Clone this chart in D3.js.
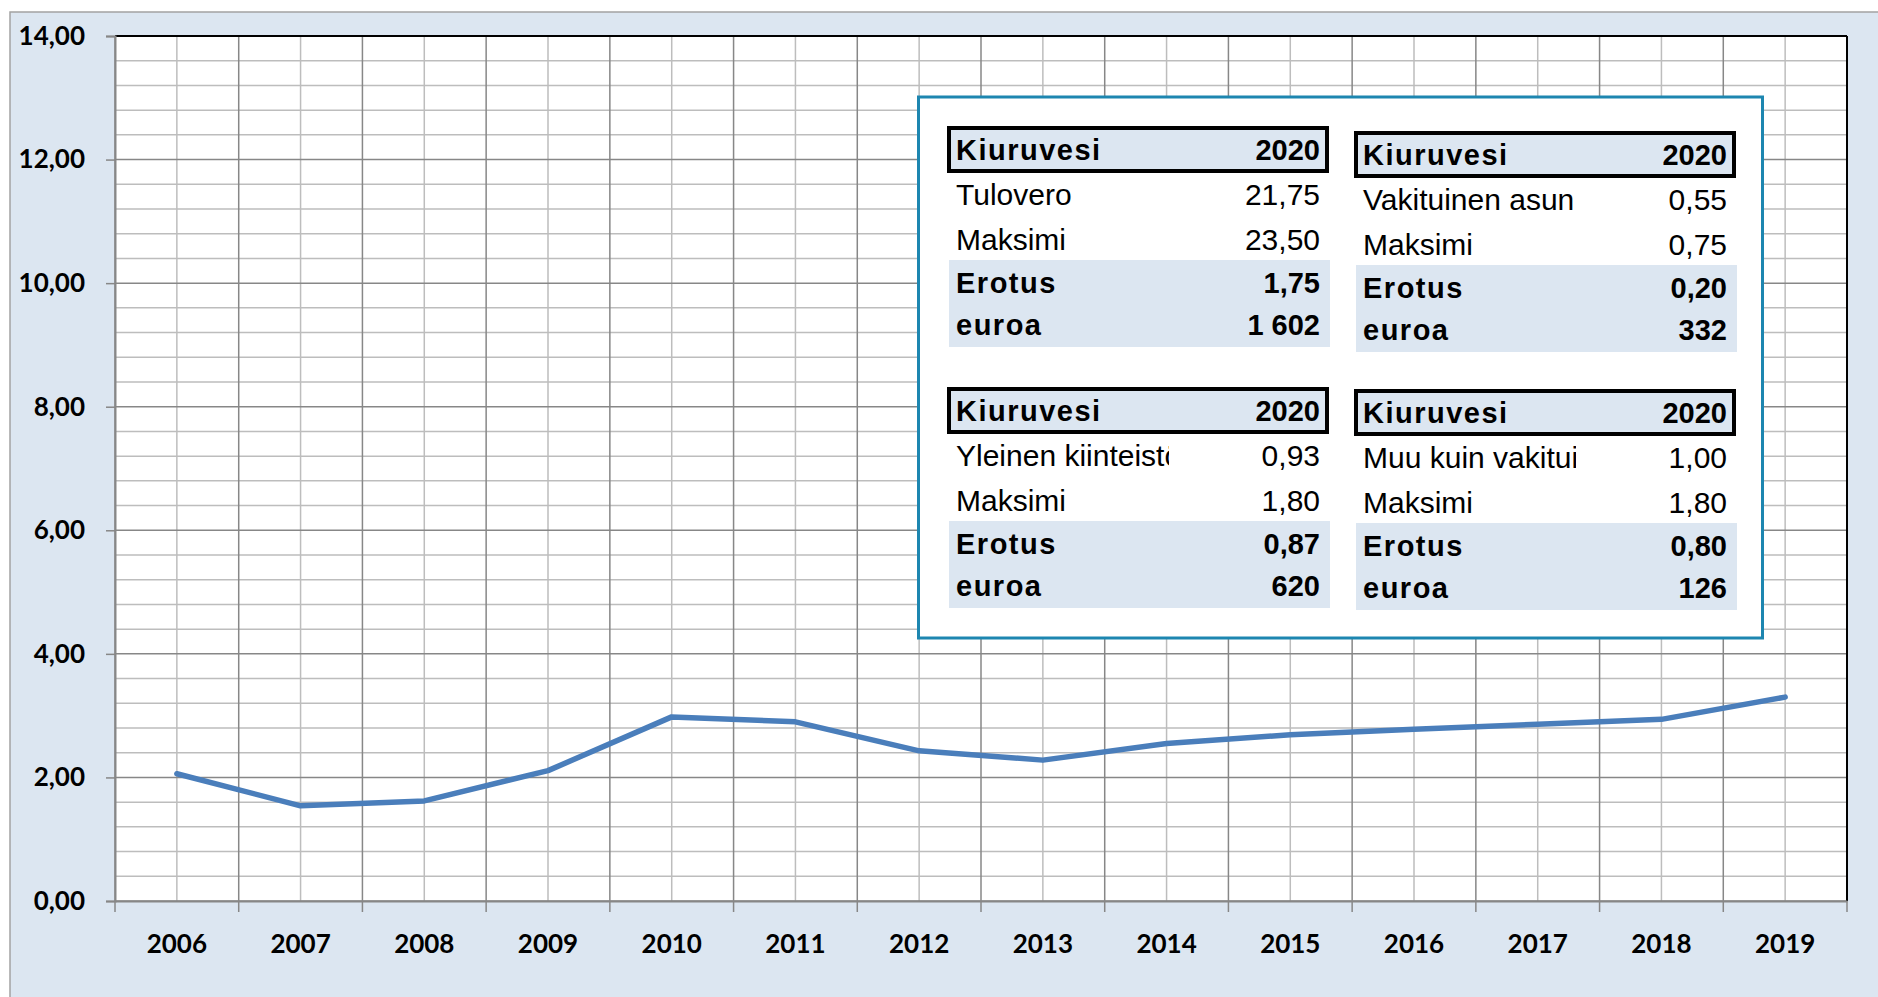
<!DOCTYPE html>
<html lang="en">
<head>
    <meta charset="UTF-8">
    <title>Kiuruvesi</title>
    <script src="https://d3js.org/d3.v7.min.js"></script>
    <style>
        body, html {
            margin: 0;
            padding: 0;
            width: 100%;
            height: 100%;
            overflow: hidden;
            background: #fff;
        }
        svg { display: block; }
    </style>
</head>
<body>
    <div id="chart"></div>

    <script>
        // Data
        const years = ["2006", "2007", "2008", "2009", "2010", "2011", "2012", "2013", "2014", "2015", "2016", "2017", "2018", "2019"];
        const values = [2.06, 1.54, 1.62, 2.11, 2.98, 2.90, 2.43, 2.28, 2.55, 2.69, 2.78, 2.86, 2.94, 3.30];
        const yTicks = [0, 2, 4, 6, 8, 10, 12, 14];

        // Inset tables
        const tableTitle = "Kiuruvesi";
        const tableYear = "2020";
        const tableLabels = [
            ["Tulovero", "Maksimi", "Erotus", "euroa"],
            ["Vakituinen asun", "Maksimi", "Erotus", "euroa"],
            ["Yleinen kiinteistö", "Maksimi", "Erotus", "euroa"],
            ["Muu kuin vakituin", "Maksimi", "Erotus", "euroa"]
        ];
        const tableValues = [
            ["21,75", "23,50", "1,75", "1 602"],
            ["0,55", "0,75", "0,20", "332"],
            ["0,93", "1,80", "0,87", "620"],
            ["1,00", "1,80", "0,80", "126"]
        ];

        const width = 1878, height = 997;
        const plot = {left: 115, top: 36, right: 1847, bottom: 901};
        const fmt = d3.format(".2f");
        const comma = v => fmt(v).replace(".", ",");

        const svg = d3.select("#chart").append("svg")
            .attr("width", width)
            .attr("height", height);

        // outer chart area
        svg.append("rect")
            .attr("x", 10).attr("y", 12)
            .attr("width", width + 20).attr("height", height + 20)
            .attr("fill", "#dce6f1")
            .attr("stroke", "#a3a3a3")
            .attr("stroke-width", 1.5);

        svg.append("rect")
            .attr("x", plot.left).attr("y", plot.top)
            .attr("width", plot.right - plot.left).attr("height", plot.bottom - plot.top)
            .attr("fill", "#fff");

        const x = d3.scaleBand().domain(years).range([plot.left, plot.right]);
        const y = d3.scaleLinear().domain([0, 14]).range([plot.bottom, plot.top]);

        // minor gridlines
        const minorY = d3.range(0, 14.001, 0.4).filter(v => Math.abs(v / 2 - Math.round(v / 2)) > 0.01);
        svg.append("g").selectAll("line").data(minorY).join("line")
            .attr("x1", plot.left).attr("x2", plot.right)
            .attr("y1", d => y(d)).attr("y2", d => y(d))
            .attr("stroke", "#bdbdbd").attr("stroke-width", 1.5);

        svg.append("g").selectAll("line").data(years).join("line")
            .attr("x1", d => x(d) + x.bandwidth() / 2).attr("x2", d => x(d) + x.bandwidth() / 2)
            .attr("y1", plot.top).attr("y2", plot.bottom)
            .attr("stroke", "#bdbdbd").attr("stroke-width", 1.5);

        // major gridlines
        svg.append("g").selectAll("line").data(yTicks).join("line")
            .attr("x1", plot.left).attr("x2", plot.right)
            .attr("y1", d => y(d)).attr("y2", d => y(d))
            .attr("stroke", "#878787").attr("stroke-width", 1.5);

        const bounds = years.map(d => x(d)).concat([plot.right]);
        svg.append("g").selectAll("line").data(bounds).join("line")
            .attr("x1", d => d).attr("x2", d => d)
            .attr("y1", plot.top).attr("y2", plot.bottom + 11)
            .attr("stroke", "#878787").attr("stroke-width", 1.5);

        // plot frame
        svg.append("line")
            .attr("x1", plot.left).attr("x2", plot.right)
            .attr("y1", plot.top).attr("y2", plot.top)
            .attr("stroke", "#000").attr("stroke-width", 2);
        svg.append("line")
            .attr("x1", plot.right).attr("x2", plot.right)
            .attr("y1", plot.top).attr("y2", plot.bottom)
            .attr("stroke", "#000").attr("stroke-width", 2);

        // y axis
        const yAxis = svg.append("g")
            .attr("transform", `translate(${plot.left},0)`)
            .call(d3.axisLeft(y).tickValues(yTicks).tickFormat(comma).tickSize(9).tickPadding(21));
        yAxis.select(".domain").attr("stroke", "#878787").attr("stroke-width", 2);
        yAxis.selectAll(".tick line").attr("stroke", "#878787").attr("stroke-width", 1.5);
        yAxis.selectAll("text")
            .attr("fill", "#000")
            .style("font-family", "Lato, 'Open Sans', sans-serif")
            .style("font-weight", "bold")
            .style("font-size", "26px");

        // x axis
        const xAxis = svg.append("g")
            .attr("transform", `translate(0,${plot.bottom})`)
            .call(d3.axisBottom(x).tickSize(0).tickPadding(34));
        xAxis.select(".domain").attr("stroke", "#878787").attr("stroke-width", 2);
        xAxis.selectAll("text")
            .attr("fill", "#000")
            .style("font-family", "Lato, 'Open Sans', sans-serif")
            .style("font-weight", "bold")
            .style("font-size", "26px");

        // line
        const line = d3.line()
            .x((d, i) => x(years[i]) + x.bandwidth() / 2)
            .y(d => y(d));
        svg.append("path")
            .datum(values)
            .attr("fill", "none")
            .attr("stroke", "#4a7ebb")
            .attr("stroke-width", 5.5)
            .attr("stroke-linejoin", "round")
            .attr("stroke-linecap", "round")
            .attr("d", line);

        // inset box
        svg.append("rect")
            .attr("x", 918.5).attr("y", 97)
            .attr("width", 844).attr("height", 541)
            .attr("fill", "#fff")
            .attr("stroke", "#1d86b0")
            .attr("stroke-width", 3);

        const tablePos = [
            {x: 947, y: 126},
            {x: 1354, y: 131},
            {x: 947, y: 387},
            {x: 1354, y: 389}
        ];
        const tableW = 382, clipW = 222;
        const baselines = [79, 123.5, 166.5, 209];

        const defs = svg.append("defs");
        defs.append("clipPath").attr("id", "labelclip")
            .append("rect").attr("x", 0).attr("y", 0).attr("width", clipW).attr("height", 230);

        tablePos.forEach((p, t) => {
            const g = svg.append("g").attr("transform", `translate(${p.x},${p.y})`);

            // shaded rows
            g.append("rect")
                .attr("x", 2).attr("y", 134)
                .attr("width", tableW - 1).attr("height", 87)
                .attr("fill", "#dce6f1");

            // header
            g.append("rect")
                .attr("x", 2).attr("y", 2)
                .attr("width", tableW - 4).attr("height", 43)
                .attr("fill", "#dce6f1")
                .attr("stroke", "#000")
                .attr("stroke-width", 4);

            g.append("text")
                .attr("x", 9).attr("y", 34)
                .style("font-family", "'Liberation Sans', Arial, sans-serif")
                .style("font-weight", "bold")
                .style("font-size", "29px")
                .style("letter-spacing", "1.5px")
                .text(tableTitle);
            g.append("text")
                .attr("x", tableW - 9).attr("y", 34)
                .attr("text-anchor", "end")
                .style("font-family", "'Liberation Sans', Arial, sans-serif")
                .style("font-weight", "bold")
                .style("font-size", "29px")
                .text(tableYear);

            tableLabels[t].forEach((lab, i) => {
                const bold = i >= 2;
                g.append("text")
                    .attr("x", 9).attr("y", baselines[i])
                    .attr("clip-path", "url(#labelclip)")
                    .style("font-family", "'Liberation Sans', Arial, sans-serif")
                    .style("font-weight", bold ? "bold" : "normal")
                    .style("font-size", bold ? "29px" : "30px")
                    .style("letter-spacing", bold ? "1.5px" : "0px")
                    .text(lab);
                g.append("text")
                    .attr("x", tableW - 9).attr("y", baselines[i])
                    .attr("text-anchor", "end")
                    .style("font-family", "'Liberation Sans', Arial, sans-serif")
                    .style("font-weight", bold ? "bold" : "normal")
                    .style("font-size", bold ? "29px" : "30px")
                    .text(tableValues[t][i]);
            });
        });
    </script>
</body>
</html>
